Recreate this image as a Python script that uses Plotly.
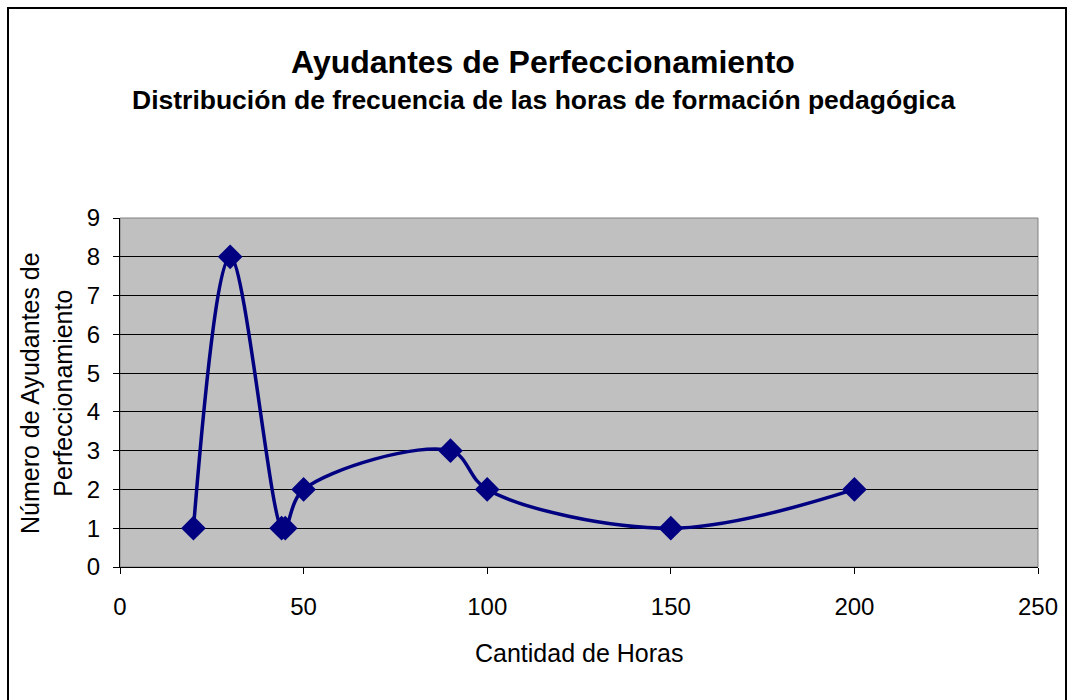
import plotly.graph_objects as go

# Horas de formación pedagógica y número de ayudantes
horas = [20, 30, 44, 45, 50, 90, 100, 150, 200]
ayudantes = [1, 8, 1, 1, 2, 3, 2, 1, 2]

x_ticks = [0, 50, 100, 150, 200, 250]
y_ticks = list(range(0, 10))

FONT = "Liberation Sans, Arial, sans-serif"
NAVY = "#000080"

fig = go.Figure()
fig.add_trace(go.Scatter(
    x=horas, y=ayudantes,
    mode="lines+markers",
    line=dict(color=NAVY, width=3.5, shape="spline", smoothing=1),
    marker=dict(symbol="diamond", size=19, color=NAVY),
    showlegend=False,
    cliponaxis=False,
))

W, H = 1073, 700
L, R, T, B = 120, 35, 218, 133
PW, PH = W - L - R, H - T - B


def px(x):
    return (x - L) / PW


def py(y):
    return (H - y - B) / PH


fig.update_layout(
    width=W, height=H,
    margin=dict(l=L, r=R, t=T, b=B),
    paper_bgcolor="white",
    plot_bgcolor="#C0C0C0",
    font=dict(family=FONT, size=24, color="black"),
    xaxis=dict(
        range=[0, 250], tickvals=x_ticks, ticks="outside", ticklen=6,
        tickcolor="black", showgrid=False, zeroline=False,
        showline=True, linecolor="black", linewidth=1,
        tickfont=dict(size=24), ticklabelstandoff=12, fixedrange=True,
    ),
    yaxis=dict(
        range=[0, 9], tickvals=y_ticks, ticks="outside", ticklen=6,
        tickcolor="black", showgrid=True, gridcolor="black", gridwidth=1,
        zeroline=False, showline=True, linecolor="black", linewidth=1,
        tickfont=dict(size=24), ticklabelstandoff=8, fixedrange=True,
    ),
    shapes=[
        # outer chart frame
        dict(type="rect", xref="paper", yref="paper",
             x0=px(8), x1=px(1066), y0=py(710), y1=py(8),
             line=dict(color="black", width=2), layer="below"),
        # plot area border
        dict(type="rect", xref="paper", yref="paper", x0=0, x1=1, y0=0, y1=1,
             line=dict(color="#808080", width=1), layer="below"),
    ],
    annotations=[
        dict(text="<b>Ayudantes de Perfeccionamiento</b>",
             xref="paper", yref="paper", x=px(543), y=py(62),
             showarrow=False, font=dict(size=32, family=FONT),
             xanchor="center", yanchor="middle"),
        dict(text="<b>Distribución de frecuencia de las horas de formación pedagógica</b>",
             xref="paper", yref="paper", x=px(543), y=py(100),
             showarrow=False, font=dict(size=26.5, family=FONT),
             xanchor="center", yanchor="middle"),
        dict(text="Cantidad de Horas",
             xref="paper", yref="paper", x=px(579), y=py(653),
             showarrow=False, font=dict(size=25, family=FONT),
             xanchor="center", yanchor="middle"),
        dict(text="Número de Ayudantes de<br>Perfeccionamiento",
             xref="paper", yref="paper", x=px(46), y=py(393),
             showarrow=False, textangle=-90, font=dict(size=25, family=FONT),
             xanchor="center", yanchor="middle"),
    ],
)

fig.write_html("out.html")
